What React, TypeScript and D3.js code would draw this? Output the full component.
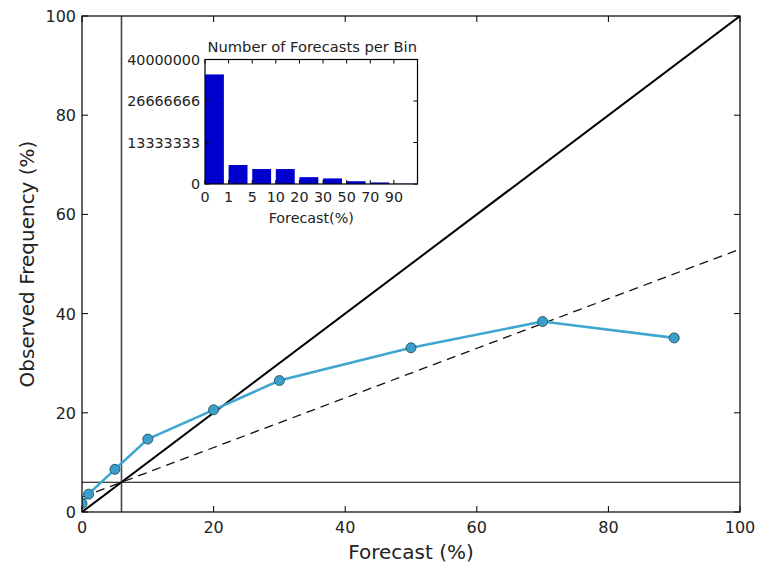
import React from "react";
import * as d3 from "d3";

const forecastBins = [0, 1, 5, 10, 20, 30, 50, 70, 90];
const observedFreq = [1.7, 3.6, 8.6, 14.7, 20.6, 26.5, 33.1, 38.4, 35.1];
const binLabels = ["0", "1", "5", "10", "20", "30", "50", "70", "90"];
const binCounts = [35200000, 6100000, 4800000, 4800000, 2200000, 1800000, 900000, 500000, 100000];
const mainTicks = [0, 20, 40, 60, 80, 100];
const insetYTicks = [0, 13333333, 26666666, 40000000];
const climatology = 6;

const FONT = "DejaVu Sans, sans-serif";

export default function App() {
  const W = 769, H = 564;
  const L = 82, R = 740, T = 16, B = 512;
  const x = d3.scaleLinear().domain([0, 100]).range([L, R]);
  const y = d3.scaleLinear().domain([0, 100]).range([B, T]);

  const iL = 205, iR = 417.5, iT = 59.5, iB = 184;
  const ix = d3.scaleLinear().domain([0, 9]).range([iL, iR]);
  const iy = d3.scaleLinear().domain([0, 40000000]).range([iB, iT]);

  const line = d3.line<number>().x((_, i) => x(forecastBins[i])).y((d) => y(d));
  const tick = 6;
  const itick = 4;

  return (
    <svg width={W} height={H} style={{ position: "absolute", left: 0, top: 0, background: "#fff" }} fontFamily={FONT}>
      <defs>
        <clipPath id="mainclip">
          <rect x={L} y={T} width={R - L} height={B - T} />
        </clipPath>
      </defs>
      <g clipPath="url(#mainclip)">
        {/* perfect reliability */}
        <line x1={x(0)} y1={y(0)} x2={x(100)} y2={y(100)} stroke="#000" strokeWidth={2} />
        {/* no skill */}
        <line x1={x(0)} y1={y(climatology / 2)} x2={x(100)} y2={y((100 + climatology) / 2)} stroke="#111" strokeWidth={1.3} strokeDasharray="9,6" />
        {/* climatology lines */}
        <line x1={x(climatology)} y1={T} x2={x(climatology)} y2={B} stroke="#444" strokeWidth={1.6} />
        <line x1={L} y1={y(climatology)} x2={R} y2={y(climatology)} stroke="#000" strokeWidth={1.2} />
        <path d={line(observedFreq) || ""} fill="none" stroke="#3ea6d1" strokeWidth={2.6} />
        {observedFreq.map((v, i) => (
          <circle key={i} cx={x(forecastBins[i])} cy={y(v)} r={5} fill="#3a9fcb" stroke="#2a4f60" strokeWidth={0.9} />
        ))}
      </g>
      {/* frame */}
      <rect x={L} y={T} width={R - L} height={B - T} fill="none" stroke="#000" strokeWidth={1.2} />
      {mainTicks.map((t) => (
        <g key={"mt" + t}>
          <line x1={x(t)} y1={B} x2={x(t)} y2={B - tick} stroke="#000" />
          <line x1={x(t)} y1={T} x2={x(t)} y2={T + tick} stroke="#000" />
          <line x1={L} y1={y(t)} x2={L + tick} y2={y(t)} stroke="#000" />
          <line x1={R} y1={y(t)} x2={R - tick} y2={y(t)} stroke="#000" />
          <text x={x(t)} y={B + 21} textAnchor="middle" fontSize={16} fill="#222">{t}</text>
          <text x={L - 6} y={y(t) + 6} textAnchor="end" fontSize={16} fill="#222">{t}</text>
        </g>
      ))}
      <text x={(L + R) / 2} y={559} textAnchor="middle" fontSize={20} fill="#222">Forecast (%)</text>
      <text transform={`translate(34,${(T + B) / 2}) rotate(-90)`} textAnchor="middle" fontSize={20} fill="#222">Observed Frequency (%)</text>

      {/* inset */}
      <rect x={iL} y={iT} width={iR - iL} height={iB - iT} fill="#fff" stroke="none" />
      {binCounts.map((c, i) => (
        <rect key={"b" + i} x={ix(i)} y={iy(c)} width={ix(i + 0.8) - ix(i)} height={iB - iy(c)} fill="#0000cd" />
      ))}
      <rect x={iL} y={iT} width={iR - iL} height={iB - iT} fill="none" stroke="#000" strokeWidth={1.2} />
      {binLabels.map((lab, i) => (
        <g key={"ix" + i}>
          <line x1={ix(i)} y1={iB} x2={ix(i)} y2={iB - itick} stroke="#000" />
          <line x1={ix(i)} y1={iT} x2={ix(i)} y2={iT + itick} stroke="#000" />
          <text x={ix(i)} y={iB + 18} textAnchor="middle" fontSize={14.3} fill="#222">{lab}</text>
        </g>
      ))}
      {insetYTicks.map((t) => (
        <g key={"iy" + t}>
          <line x1={iL} y1={iy(t)} x2={iL + itick} y2={iy(t)} stroke="#000" />
          <line x1={iR} y1={iy(t)} x2={iR - itick} y2={iy(t)} stroke="#000" />
          <text x={iL - 5} y={iy(t) + 5} textAnchor="end" fontSize={14.3} fill="#222">{t}</text>
        </g>
      ))}
      <text x={(iL + iR) / 2 + 1} y={iT - 8} textAnchor="middle" fontSize={14.7} fill="#222">Number of Forecasts per Bin</text>
      <text x={(iL + iR) / 2} y={iB + 39} textAnchor="middle" fontSize={14.3} fill="#222">Forecast(%)</text>
    </svg>
  );
}
